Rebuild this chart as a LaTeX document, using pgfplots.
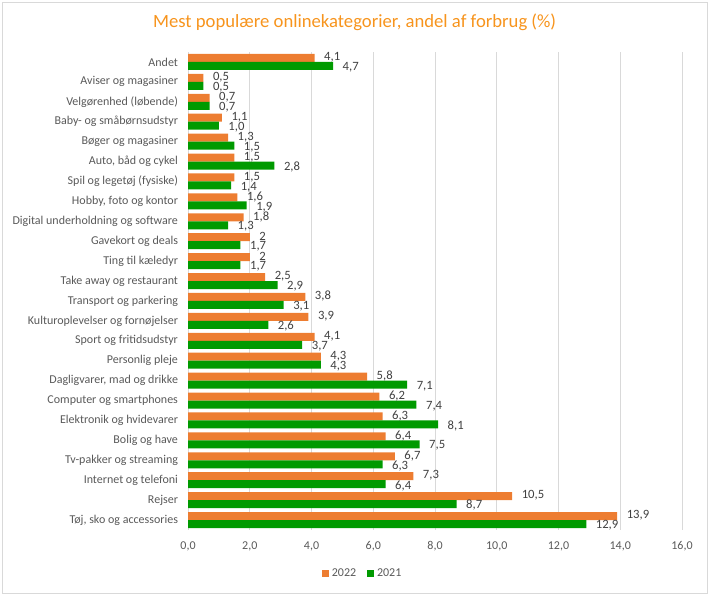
\documentclass[border=0pt]{standalone}
\usepackage{pgfplots}
\pgfplotsset{compat=1.18}
\usepackage{pgfplotstable}
\usepackage{fontspec}
\setmainfont{Carlito}
\definecolor{cOr}{HTML}{ED7D31}
\definecolor{cGr}{HTML}{009A00}
\definecolor{cTitle}{HTML}{F7941D}
\definecolor{cTxt}{HTML}{595959}
\definecolor{cLab}{HTML}{404040}
\definecolor{cGrid}{HTML}{D9D9D9}
\pgfplotstableread{
y v22 l22 v21 l21
0 4.1 4,1 4.7 4,7
1 0.5 0,5 0.5 0,5
2 0.7 0,7 0.7 0,7
3 1.1 1,1 1.0 1,0
4 1.3 1,3 1.5 1,5
5 1.5 1,5 2.8 2,8
6 1.5 1,5 1.4 1,4
7 1.6 1,6 1.9 1,9
8 1.8 1,8 1.3 1,3
9 2.0 2 1.7 1,7
10 2.0 2 1.7 1,7
11 2.5 2,5 2.9 2,9
12 3.8 3,8 3.1 3,1
13 3.9 3,9 2.6 2,6
14 4.1 4,1 3.7 3,7
15 4.3 4,3 4.3 4,3
16 5.8 5,8 7.1 7,1
17 6.2 6,2 7.4 7,4
18 6.3 6,3 8.1 8,1
19 6.4 6,4 7.5 7,5
20 6.7 6,7 6.3 6,3
21 7.3 7,3 6.4 6,4
22 10.5 10,5 8.7 8,7
23 13.9 13,9 12.9 12,9
}\datatab
\begin{document}
\begin{tikzpicture}
\useasboundingbox (0,0) rectangle (532.5pt,-447pt);
\draw[cGrid, line width=0.75pt] (1.5pt,-2pt) rectangle (530.5pt,-445pt);
\node[text=cTitle, font=\fontsize{14}{16}\selectfont] at (266pt,-16.5pt) {Mest populære onlinekategorier, andel af forbrug (\%)};
\begin{axis}[
  at={(141pt,-39pt)}, anchor=north west,
  scale only axis, width=370.5pt, height=358.5pt,
  xbar, bar width=6pt,
  y dir=reverse,
  xmin=0, xmax=16, ymin=-0.5, ymax=23.5,
  xtick={0,2,...,16},
  ytick={0,...,23},
  yticklabels={Andet, Aviser og magasiner, Velgørenhed (løbende), Baby- og småbørnsudstyr, Bøger og magasiner, {Auto, båd og cykel}, Spil og legetøj (fysiske), {Hobby, foto og kontor}, Digital underholdning og software, Gavekort og deals, Ting til kæledyr, Take away og restaurant, Transport og parkering, Kulturoplevelser og fornøjelser, Sport og fritidsudstyr, Personlig pleje, {Dagligvarer, mad og drikke}, Computer og smartphones, Elektronik og hvidevarer, Bolig og have, Tv-pakker og streaming, Internet og telefoni, Rejser, {Tøj, sko og accessories}},
  xmajorgrids, major grid style={cGrid, line width=0.75pt},
  axis line style={draw=none},
  major tick length=0pt,
  tick label style={font=\fontsize{9}{10}\selectfont, text=cTxt},
  xticklabel style={yshift=-5pt},
  yticklabel style={xshift=-4pt},
  /pgf/number format/.cd, use comma, fixed, zerofill, precision=1, assume math mode=true,
  /pgfplots/.cd,
  legend style={at={(0.354,-0.0907)}, anchor=center, draw=none, legend columns=-1, font=\fontsize{9}{10}\selectfont, text=cTxt, /tikz/every even column/.append style={column sep=6pt}},
  legend image code/.code={\fill[#1] (0pt,-2.8pt) rectangle (5.6pt,2.8pt);},
  nodes near coords,
  point meta=explicit symbolic,
  every node near coord/.append style={font=\fontsize{9.5}{10}\selectfont, text=cLab, anchor=west, inner sep=1pt, xshift=6pt},
]
\addplot[fill=cOr, draw=none, bar shift=3pt, every node near coord/.append style={yshift=0.5pt}] table[x=v22, y=y, meta=l22] {\datatab};
\addplot[fill=cGr, draw=none, bar shift=-3pt, every node near coord/.append style={yshift=-1pt}] table[x=v21, y=y, meta=l21] {\datatab};
\legend{2022, 2021}
\end{axis}
\end{tikzpicture}
\end{document}
